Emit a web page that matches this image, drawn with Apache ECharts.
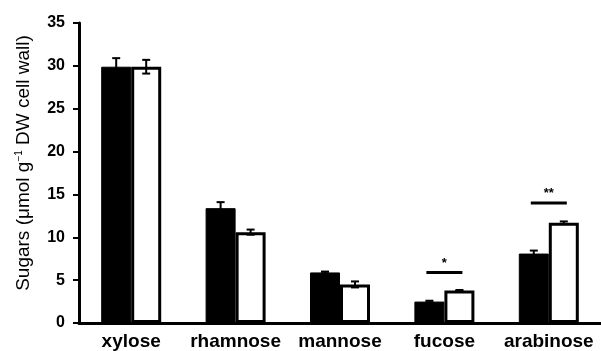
<!DOCTYPE html>
<html><head><meta charset="utf-8">
<script src="https://cdn.jsdelivr.net/npm/echarts@6/dist/echarts.min.js"></script>
<style>html,body{margin:0;padding:0;background:#fff}#c{width:601px;height:351px}</style>
</head><body><div id="c"></div>
<script>
var categories = ['xylose', 'rhamnose', 'mannose', 'fucose', 'arabinose'];
var blackVals = [29.9, 13.4, 5.9, 2.5, 8.1];
var blackErr = [1.0, 0.7, 0.1, 0.1, 0.35];
var whiteVals = [29.9, 10.6, 4.5, 3.8, 11.7];
var whiteErr = [0.8, 0.3, 0.35, 0.05, 0.15];
var yTicks = [0, 5, 10, 15, 20, 25, 30, 35];
var sigCats = [3, 4];
var sigY = [5.9, 14.0];
var sigLabels = ['*', '**'];

var chart = echarts.init(document.getElementById('c'), null, {renderer: 'canvas'});
var FONT = 'Liberation Sans, Arial, sans-serif';
var BW = 30;

function errSeries(vals, errs, offset) {
  return {
    type: 'custom',
    z: 10,
    data: vals.map(function (v, i) { return [i, v - errs[i], v + errs[i]]; }),
    renderItem: function (params, api) {
      var lo = api.coord([api.value(0), api.value(1)]);
      var hi = api.coord([api.value(0), api.value(2)]);
      var x = lo[0] + offset;
      var cap = 4;
      var st = {stroke: '#000', lineWidth: 2};
      return {type: 'group', children: [
        {type: 'line', shape: {x1: x, y1: lo[1], x2: x, y2: hi[1]}, style: st},
        {type: 'line', shape: {x1: x - cap, y1: lo[1], x2: x + cap, y2: lo[1]}, style: st},
        {type: 'line', shape: {x1: x - cap, y1: hi[1], x2: x + cap, y2: hi[1]}, style: st}
      ]};
    }
  };
}

chart.setOption({
  animation: false,
  backgroundColor: '#fff',
  grid: {left: 79, right: 0, top: 23, bottom: 28},
  xAxis: {
    type: 'category',
    data: categories,
    axisLine: {lineStyle: {color: '#000', width: 3}},
    axisTick: {show: false},
    axisLabel: {interval: 0, color: '#000', fontFamily: FONT, fontWeight: 'bold', fontSize: 19, margin: 9}
  },
  yAxis: {
    type: 'value',
    min: yTicks[0], max: yTicks[yTicks.length - 1], interval: 5,
    splitLine: {show: false},
    axisLine: {show: true, lineStyle: {color: '#000', width: 3}},
    axisTick: {show: true, length: 6, lineStyle: {color: '#000', width: 2}},
    axisLabel: {color: '#000', fontFamily: FONT, fontWeight: 'bold', fontSize: 16, margin: 14},
    name: 'Sugars (μmol g{sup|−1} DW cell wall)',
    nameLocation: 'middle',
    nameGap: 46,
    nameRotate: 90,
    nameTextStyle: {color: '#000', fontFamily: FONT, fontSize: 19, padding: [0, 0, 0, 20],
      rich: {sup: {fontSize: 10, verticalAlign: 'top', color: '#000', fontFamily: FONT, padding: [0, 0, 9, 0]}}}
  },
  series: [
    {type: 'bar', data: blackVals, barWidth: BW, barGap: '0%',
      itemStyle: {color: '#000', borderColor: '#000', borderWidth: 1}},
    {type: 'bar', data: whiteVals, barWidth: BW, barGap: '0%',
      itemStyle: {color: '#fff', borderColor: '#000', borderWidth: 3}},
    errSeries(blackVals, blackErr, -BW / 2),
    errSeries(whiteVals, whiteErr, BW / 2),
    {
      type: 'custom', z: 10,
      data: sigCats.map(function (c, i) { return [c, sigY[i], sigLabels[i]]; }),
      renderItem: function (params, api) {
        var p = api.coord([api.value(0), api.value(1)]);
        var lab = sigLabels[params.dataIndex];
        return {type: 'group', children: [
          {type: 'line', shape: {x1: p[0] - 18, y1: p[1], x2: p[0] + 18, y2: p[1]}, style: {stroke: '#000', lineWidth: 3}},
          {type: 'text', x: p[0], y: p[1] - 3, style: {text: lab, fill: '#000', font: 'bold 13px ' + FONT, textAlign: 'center', textVerticalAlign: 'bottom'}}
        ]};
      }
    }
  ]
});
</script>
</body></html>
